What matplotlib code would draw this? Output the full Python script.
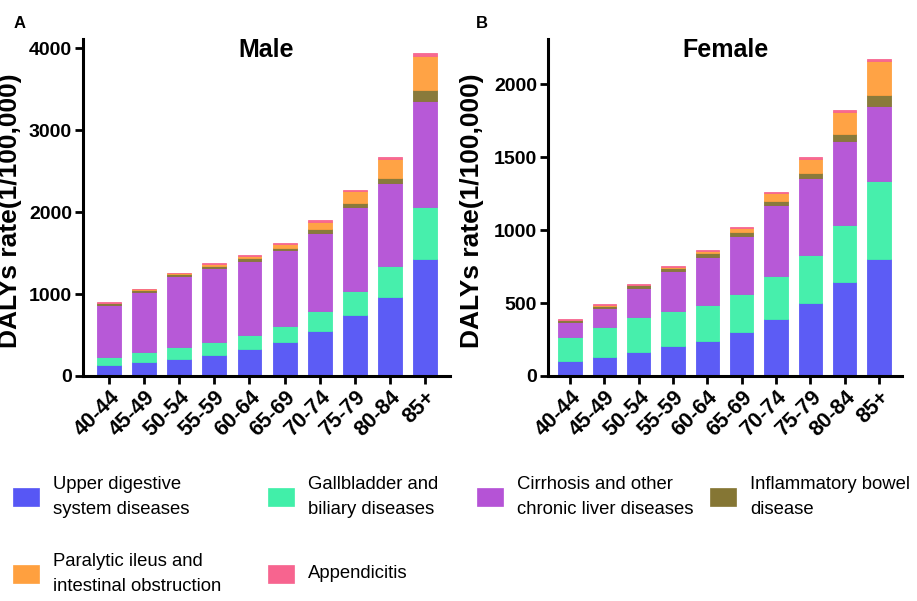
import numpy as np
import matplotlib
matplotlib.use("Agg")
import matplotlib.pyplot as plt
from matplotlib.patches import Rectangle

plt.rcParams['font.family'] = ['Liberation Sans', 'DejaVu Sans']

ages = ["40-44", "45-49", "50-54", "55-59", "60-64", "65-69", "70-74", "75-79", "80-84", "85+"]

diseases = [
    "Upper digestive\nsystem diseases",
    "Gallbladder and\nbiliary diseases",
    "Cirrhosis and other\nchronic liver diseases",
    "Inflammatory bowel\ndisease",
    "Paralytic ileus and\nintestinal obstruction",
    "Appendicitis",
]
colors = ["#5757F5", "#41EFA9", "#B553D6", "#857634", "#FFA03F", "#F7648F"]

# male DALYs rate per 100,000
male_upper = [135, 167, 212, 261, 335, 420, 551, 743, 959, 1429]
male_gall = [95, 123, 139, 159, 159, 184, 237, 290, 388, 632]
male_cirr = [640, 734, 865, 898, 914, 927, 959, 1032, 1008, 1298]
male_ibd = [15, 25, 28, 29, 33, 32, 45, 49, 65, 127]
male_ileus = [10, 12, 13, 24, 28, 49, 90, 143, 225, 416]
male_app = [4, 5, 4, 6, 10, 12, 16, 16, 24, 37]

# female
female_upper = [103, 128, 165, 204, 241, 303, 392, 500, 647, 805]
female_gall = [161, 207, 239, 243, 245, 257, 292, 330, 390, 530]
female_cirr = [103, 128, 197, 271, 331, 401, 486, 526, 573, 516]
female_ibd = [14, 19, 21, 21, 23, 25, 30, 36, 51, 76]
female_ileus = [4, 5, 5, 11, 16, 28, 55, 97, 147, 229]
female_app = [5, 4, 6, 7, 7, 7, 7, 9, 13, 16]

male = [male_upper, male_gall, male_cirr, male_ibd, male_ileus, male_app]
female = [female_upper, female_gall, female_cirr, female_ibd, female_ileus, female_app]

fig = plt.figure(figsize=(9.17, 6.01), dpi=100)
W, H = 917, 601


def add_ax(l, r, t, b):
    return fig.add_axes([l / W, 1 - b / H, (r - l) / W, (b - t) / H])


ax_m = add_ax(83, 450, 39, 376)
ax_f = add_ax(548, 902, 39, 376)


def draw(ax, data, title, ymax, step, xlim, ylab_x):
    x = np.arange(len(ages))
    bottom = np.zeros(len(ages))
    for vals, c in zip(data, colors):
        ax.bar(x, vals, width=0.68, bottom=bottom, color=c, edgecolor=c,
               linewidth=0.6, alpha=0.97)
        bottom += np.array(vals)
    ax.set_xlim(*xlim)
    ax.set_ylim(0, ymax)
    ax.set_yticks(np.arange(0, ymax, step))
    ax.set_xticks(x)
    ax.set_xticklabels(ages, rotation=45, ha='right', rotation_mode='anchor',
                       fontsize=15.5, fontweight='bold')
    for lab in ax.get_yticklabels():
        lab.set_fontsize(14)
        lab.set_fontweight('bold')
    ax.spines['top'].set_visible(False)
    ax.spines['right'].set_visible(False)
    for s in ['left', 'bottom']:
        ax.spines[s].set_linewidth(2.2)
    ax.tick_params(axis='both', width=2, length=6, pad=2)
    ax.set_ylabel("DALYs rate(1/100,000)", fontsize=19, fontweight='bold')
    ax.yaxis.set_label_coords(ylab_x, 0.49)
    ax.set_title(title, fontsize=18, fontweight='bold', pad=-2, y=0.955)


draw(ax_m, male, "Male", 4110, 1000, (-0.74, 9.71), -0.165)
draw(ax_f, female, "Female", 2310, 500, (-0.64, 9.67), -0.18)

fig.text(14 / W, 1 - 24 / H, "A", fontsize=12, fontweight='bold', va='center')
fig.text(476 / W, 1 - 24 / H, "B", fontsize=12, fontweight='bold', va='center')

# legend laid out by hand: square left edge, row centre (pixels)
leg_pos = [(13, 497), (268, 497), (477, 497), (710, 497), (13, 574), (268, 574)]
for (lx, ly), lab, c in zip(leg_pos, diseases, colors):
    fig.patches.append(Rectangle((lx / W, 1 - (ly + 9) / H), 26 / W, 18 / H,
                                 transform=fig.transFigure, facecolor=c,
                                 edgecolor=c, linewidth=0.5))
    fig.text((lx + 40) / W, 1 - ly / H, lab, fontsize=13.3, va='center',
             ha='left', linespacing=1.55)

fig.savefig("out.png", dpi=100)
